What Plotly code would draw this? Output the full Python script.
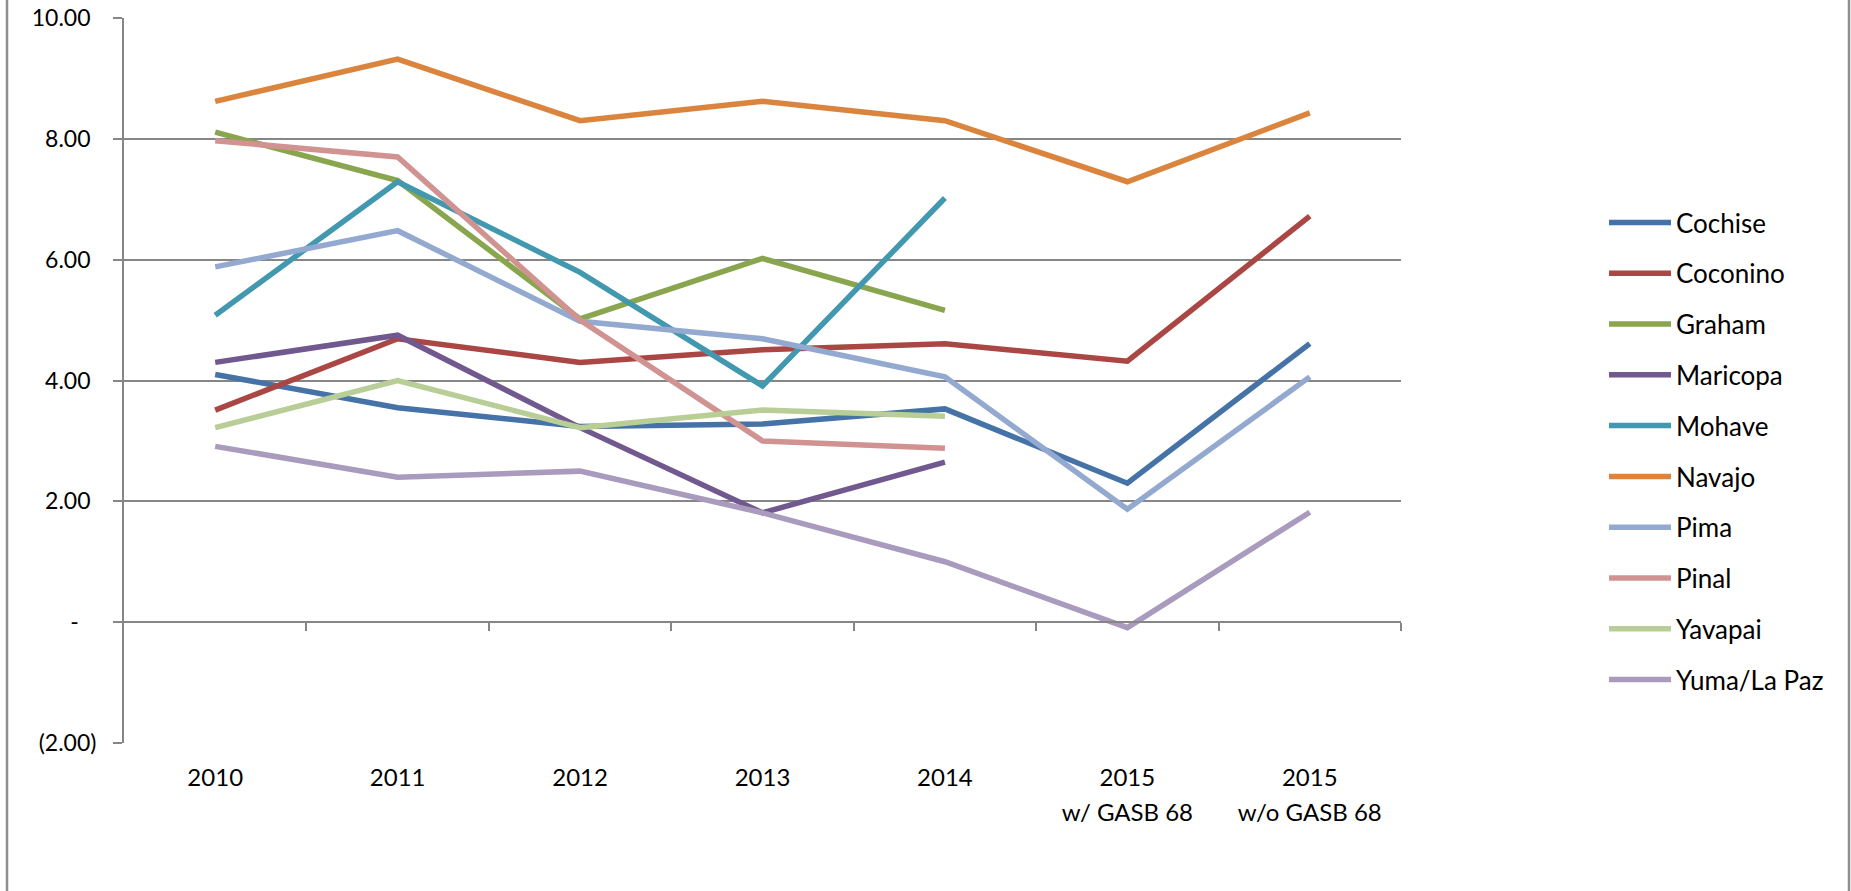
import plotly.graph_objects as go

year_labels = ["2010", "2011", "2012", "2013", "2014", "2015", "2015"]
sub_labels  = ["", "", "", "", "", "w/ GASB 68", "w/o GASB 68"]

cochise   = [4.10, 3.55, 3.24, 3.28, 3.53, 2.30, 4.61]
coconino  = [3.51, 4.69, 4.30, 4.51, 4.61, 4.32, 6.72]
graham    = [8.11, 7.31, 5.02, 6.02, 5.16, None, None]
maricopa  = [4.30, 4.75, 3.22, 1.81, 2.65, None, None]
mohave    = [5.08, 7.29, 5.79, 3.91, 7.02, None, None]
navajo    = [8.62, 9.32, 8.30, 8.62, 8.30, 7.29, 8.43]
pima      = [5.88, 6.48, 4.98, 4.69, 4.06, 1.87, 4.06]
pinal     = [7.97, 7.70, 5.00, 3.00, 2.88, None, None]
yavapai   = [3.22, 4.00, 3.22, 3.51, 3.41, None, None]
yuma      = [2.91, 2.40, 2.50, 1.81, 1.00, -0.09, 1.82]

series_names = ["Cochise", "Coconino", "Graham", "Maricopa", "Mohave",
                "Navajo", "Pima", "Pinal", "Yavapai", "Yuma/La Paz"]
series_values = [cochise, coconino, graham, maricopa, mohave,
                 navajo, pima, pinal, yavapai, yuma]
colors = ["#4572A7", "#AA4643", "#89A54E", "#71588F", "#4198AF",
          "#DB843D", "#93A9CF", "#D19392", "#B9CD96", "#A99BBD"]

# accounting-style labels (positives padded for the ")" column, dash padded further)
NB = "\u00a0"
y_tickvals = [-2, 0, 2, 4, 6, 8, 10]
y_ticktext = ["(2.00)", "-" + NB * 3, "2.00" + NB, "4.00" + NB, "6.00" + NB,
              "8.00" + NB, "10.00" + NB]
y_min, y_max = -2, 10

x_pos = list(range(len(year_labels)))
boundaries = [i + 0.5 for i in range(len(year_labels))]
x_range = [-0.5, len(year_labels) - 0.5]

FONT = "Lato, 'Open Sans', sans-serif"
GRID = "#868686"

W, H = 1851, 891
L, R, T, B = 124, 450, 18, 148
plot_w = W - L - R
plot_h = H - T - B

fig = go.Figure()
for name, vals, col in zip(series_names, series_values, colors):
    fig.add_trace(go.Scatter(
        x=x_pos, y=vals, name=name, mode="lines",
        line=dict(color=col, width=5.5),
        legendgroup=name, connectgaps=False,
    ))

# helper traces anchoring the auxiliary x axes
for ax in ("x2", "x3"):
    fig.add_trace(go.Scatter(x=x_pos, y=[0] * len(x_pos), xaxis=ax, mode="lines",
                             line=dict(width=0, color="rgba(0,0,0,0)"),
                             showlegend=False, hoverinfo="skip"))

zero_frac = (0 - y_min) / (y_max - y_min)

legend_top_page = 221 - 22
fig.update_layout(
    width=W, height=H,
    margin=dict(l=L, r=R, t=T, b=B, autoexpand=False),
    paper_bgcolor="white", plot_bgcolor="white",
    font=dict(family=FONT, size=24, color="black"),
    showlegend=True,
    legend=dict(
        x=(1604 - L) / plot_w, xanchor="left",
        y=1 - (legend_top_page - T) / plot_h, yanchor="top",
        font=dict(family=FONT, size=26, color="black"),
        tracegroupgap=14,
        itemwidth=62,
        bgcolor="rgba(0,0,0,0)",
    ),
    xaxis=dict(
        range=x_range,
        tickvals=x_pos, ticktext=year_labels,
        showgrid=False, zeroline=False, showline=False,
        ticks="", ticklabelstandoff=18, automargin=False,
        tickfont=dict(family=FONT, size=24, color="black"),
    ),
    xaxis3=dict(
        overlaying="x", anchor="y", side="bottom",
        range=x_range,
        tickvals=x_pos, ticktext=sub_labels,
        showgrid=False, zeroline=False, showline=False,
        ticks="", ticklabelstandoff=53, automargin=False,
        tickfont=dict(family=FONT, size=24, color="black"),
    ),
    xaxis2=dict(
        overlaying="x", anchor="free", position=zero_frac,
        range=x_range,
        tickvals=boundaries, showticklabels=False,
        ticks="outside", ticklen=8, tickwidth=2, tickcolor=GRID,
        showline=True, linecolor=GRID, linewidth=2,
        showgrid=False, zeroline=False, automargin=False,
    ),
    yaxis=dict(
        range=[y_min, y_max],
        tickvals=y_tickvals, ticktext=y_ticktext,
        showgrid=True, gridcolor=GRID, gridwidth=2,
        zeroline=False, automargin=False,
        showline=True, linecolor=GRID, linewidth=2,
        ticks="outside", ticklen=9, tickwidth=2, tickcolor=GRID,
        ticklabelstandoff=12, ticklabeloverflow="allow",
        tickfont=dict(family=FONT, size=23, color="black"),
    ),
)

# outer chart-area border (left and right edges visible)
fig.add_shape(type="rect", xref="paper", yref="paper",
              x0=(7 - L) / plot_w, x1=(1849 - L) / plot_w,
              y0=-(B + 20) / plot_h, y1=1 + (T + 20) / plot_h,
              line=dict(color="#8E8E8E", width=2.5), fillcolor="rgba(0,0,0,0)",
              layer="below")

fig.write_html("out.html",
               config={"displayModeBar": False},
               post_script="document.body.style.margin='0';document.body.style.overflow='hidden';")
